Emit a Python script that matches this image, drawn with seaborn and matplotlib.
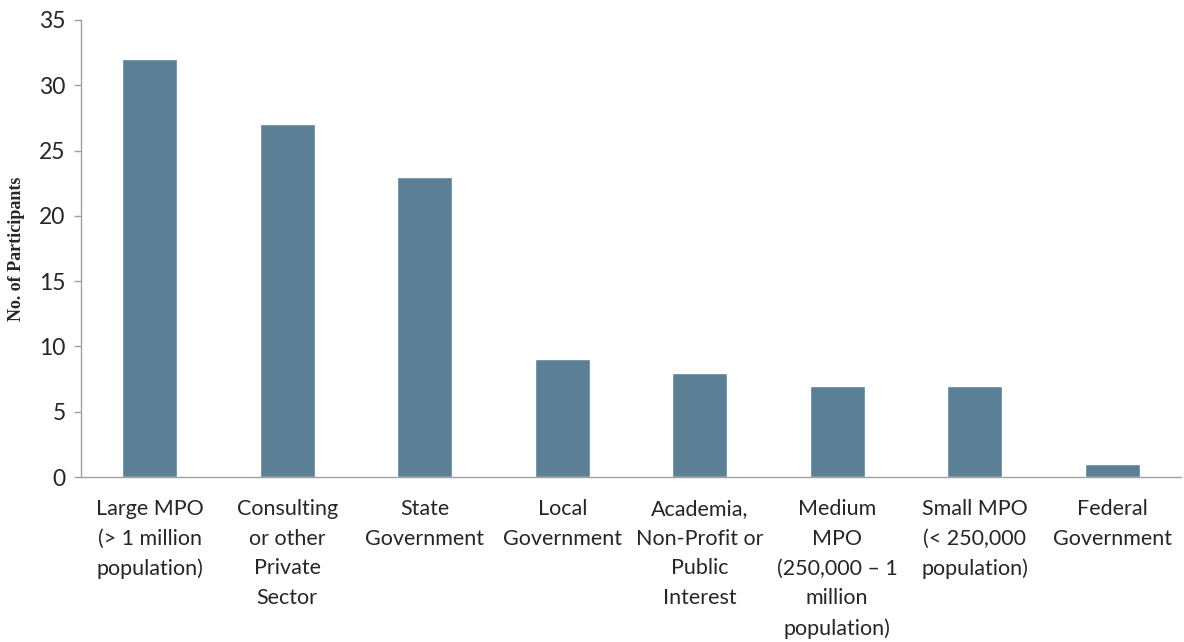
import matplotlib
matplotlib.use("Agg")
import matplotlib.pyplot as plt
import seaborn as sns
import pandas as pd

categories = [
    "Large MPO\n(> 1 million\npopulation)",
    "Consulting\nor other\nPrivate\nSector",
    "State\nGovernment",
    "Local\nGovernment",
    "Academia,\nNon-Profit or\nPublic\nInterest",
    "Medium\nMPO\n(250,000 \u2013 1\nmillion\npopulation)",
    "Small MPO\n(< 250,000\npopulation)",
    "Federal\nGovernment",
]
participants = [32, 27, 23, 9, 8, 7, 7, 1]
y_ticks = [0, 5, 10, 15, 20, 25, 30, 35]

df = pd.DataFrame({"category": categories, "count": participants})

sns.set_theme(style="white")
plt.rcParams["font.family"] = ["Lato", "DejaVu Sans"]

fig = plt.figure(figsize=(11.84, 6.42), dpi=100)
ax = fig.add_axes([0.0684, 0.257, 0.929, 0.712])

sns.barplot(data=df, x="category", y="count", color="#5B7F95",
            saturation=1, width=0.4, ax=ax)

ax.set_ylim(0, 35)
ax.set_xlim(-0.5, len(categories) - 0.5)
ax.set_yticks(y_ticks)
ax.set_yticklabels([str(t) for t in y_ticks], fontsize=16.5)
ax.set_xticks(range(len(categories)))
ax.set_xticklabels(categories, fontsize=15.5, linespacing=1.6)
ax.tick_params(axis="x", length=0, pad=16)
ax.tick_params(axis="y", length=5, width=1, color="#A0A0A0", pad=6,
               left=True, direction="out")
ax.set_xlabel("")
ax.set_ylabel("No. of Participants", fontsize=13, fontweight="bold",
              family=["Liberation Serif", "DejaVu Serif"], labelpad=10)

for side in ["top", "right"]:
    ax.spines[side].set_visible(False)
for side in ["left", "bottom"]:
    ax.spines[side].set_color("#A0A0A0")
    ax.spines[side].set_linewidth(1)

fig.savefig("out.png", dpi=100)
